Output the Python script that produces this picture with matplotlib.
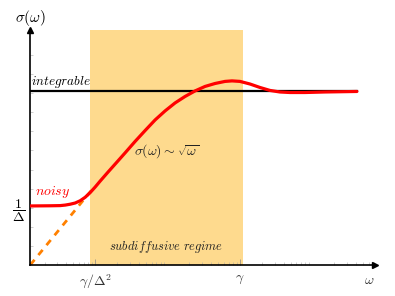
import numpy as np
import matplotlib
matplotlib.use('Agg')
import matplotlib.pyplot as plt
from matplotlib.ticker import FixedLocator, NullFormatter

plt.rcParams['mathtext.fontset'] = 'cm'
plt.rcParams['font.family'] = 'DejaVu Serif'

# Scales (gamma = 1, Delta = 10)
gamma = 1.0
Delta = 10.0

# Conductivity curve
omega = [0.00127, 0.0024, 0.00329, 0.00386, 0.00452, 0.0053, 0.00621, 0.00728, 0.00853,
         0.01, 0.0117, 0.0151, 0.0195, 0.0259, 0.0356, 0.049, 0.0673, 0.0924, 0.127,
         0.174, 0.239, 0.329, 0.452, 0.621, 0.776, 1.0, 1.374, 1.888, 2.593, 3.562,
         4.894, 7.88, 14.87, 41.1]
sigma = [0.340, 0.341, 0.342, 0.345, 0.350, 0.357, 0.370, 0.390, 0.417,
         0.449, 0.483, 0.536, 0.588, 0.646, 0.712, 0.775, 0.836, 0.888, 0.934,
         0.971, 1.003, 1.029, 1.046, 1.058, 1.061, 1.058, 1.043, 1.023, 1.006, 0.997,
         0.994, 0.994, 0.997, 1.0]

# sqrt extrapolation (dashed) and integrable level
omega_dash = [0.00127, 0.0095]
sigma_dash = [0.0, 0.445]
omega_int = [0.00127, 41.1]
sigma_int = [1.0, 1.0]
noise_level = 0.340

# subdiffusive window
shade_lo = 0.0085
shade_hi = 1.1

fig = plt.figure(figsize=(3.95, 2.96), dpi=100)
ax = fig.add_axes([0.076, 0.105, 0.873, 0.794])
ax.set_xscale('log')
ax.set_xlim(0.00126, 72.8)
ax.set_ylim(0, 1.355)

ax.axvspan(shade_lo, shade_hi, color='#FEDA8E', lw=0, zorder=0)
ax.plot(omega_int, sigma_int, color='k', lw=1.6, zorder=2)
ax.plot(omega_dash, sigma_dash, color='#FF8000', lw=2, ls=(0, (2.4, 2.2)), zorder=2)
ax.plot(omega, sigma, color='red', lw=2.3, zorder=3, solid_capstyle='round',
        solid_joinstyle='round')

# Axes styling: only left/bottom with arrows
for s in ['top', 'right']:
    ax.spines[s].set_visible(False)
for s in ['left', 'bottom']:
    ax.spines[s].set_linewidth(1.2)
ax.plot(1, 0, '>k', ms=4, transform=ax.transAxes, clip_on=False)
ax.plot(0, 1, '^k', ms=4, transform=ax.transAxes, clip_on=False)

ax.set_xticks([gamma / Delta**2, gamma])
ax.set_xticklabels([r'$\gamma/\Delta^2$', r'$\gamma$'], fontsize=10, color='#333333')
ax.xaxis.set_minor_formatter(NullFormatter())
ax.tick_params(axis='x', which='major', direction='in', length=4, width=0.5, color='#888888', pad=5)
ax.tick_params(axis='x', which='minor', direction='in', length=2, width=0.4, color='#aaaaaa')

ax.set_yticks([noise_level])
ax.set_yticklabels([r'$\dfrac{1}{\Delta}$'], fontsize=10)
ax.yaxis.set_minor_locator(FixedLocator(np.arange(0.11, 1.3, 0.11)))
ax.tick_params(axis='y', which='major', length=0, pad=3)
ax.tick_params(axis='y', which='minor', direction='in', length=2, width=0.4, color='#aaaaaa')

ax.text(0, 1.05, r'$\sigma(\omega)$', transform=ax.transAxes, ha='center', va='center', fontsize=11)
ax.text(0.985, -0.064, r'$\omega$', transform=ax.transAxes, ha='center', va='center', fontsize=10, color='#333333')
ax.text(0.00131, 1.008, r'$integrable$', ha='left', va='bottom', fontsize=9.5)
ax.text(0.00149, 0.42, r'$noisy$', ha='left', va='center', fontsize=10, color='red')
ax.text(0.098, 0.655, r'$\sigma(\omega) \sim \sqrt{\omega}$', ha='center', va='center', fontsize=10, color='#222222')
ax.text(0.095, 0.103, r'$subdiffusive\ regime$', ha='center', va='center', fontsize=9, color='#222222')

fig.savefig('out.png', dpi=100)
